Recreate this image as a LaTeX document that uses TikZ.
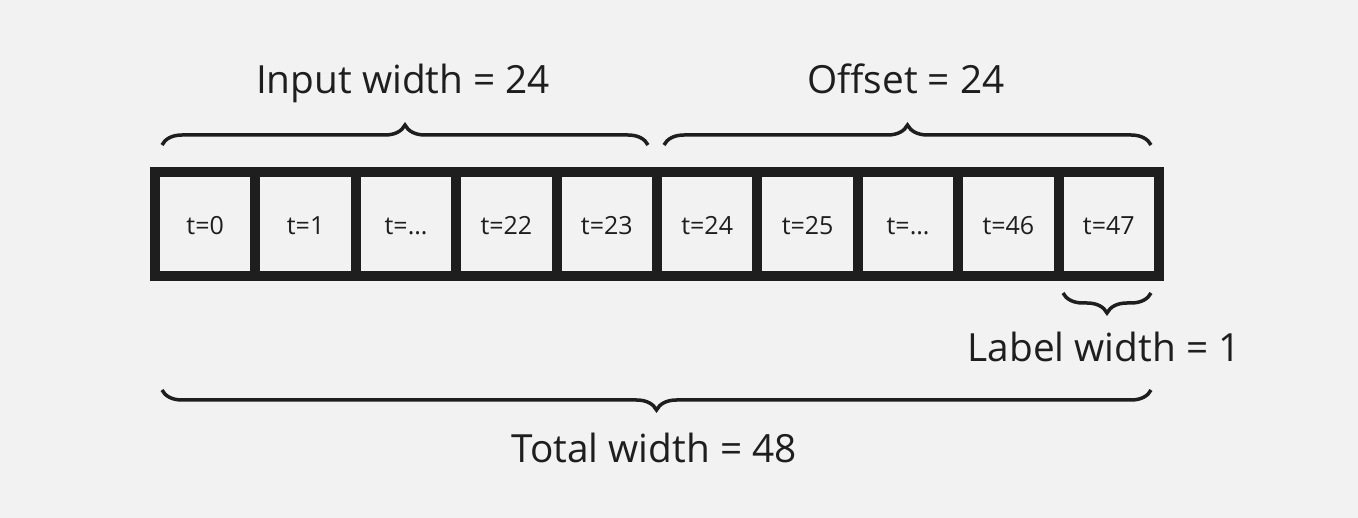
\documentclass[tikz,border=0pt]{standalone}
\usepackage{fontspec}
\setmainfont{Open Sans}
\usetikzlibrary{decorations.pathreplacing}
\definecolor{bg}{HTML}{F2F2F2}
\definecolor{ink}{HTML}{1E1E1E}
\begin{document}
\begin{tikzpicture}[x=1pt,y=-1pt,
  cell/.style={draw=ink, line width=10pt, minimum width=100.4pt, minimum height=104pt, inner sep=0pt, text=ink},
  celltext/.style={text=ink, anchor=base, inner sep=0pt, font=\fontsize{25}{30}\selectfont},
  bigbrace/.style={draw=ink, line width=3.5pt, decorate, decoration={brace, amplitude=20pt, aspect=0.5}},
  lbl/.style={text=ink, anchor=base, inner sep=0pt, font=\fontsize{38.8}{46}\selectfont}]
\useasboundingbox[fill=bg] (0,0) rectangle (1358,518);
% cells
\foreach \i/\t in {0/0,1/1,2/{\dots},3/22,4/23,5/24,6/25,7/{\dots},8/46,9/47}{
  \node[cell] (c\i) at ({205.2+100.4*\i},224) {};
  \node[celltext] (t\i) at ({205.2+100.4*\i},234.5) {t=\t};
}
% brace anchors
\coordinate (b1s) at (162,145); \coordinate (b1e) at (648,145);
\coordinate (b2s) at (664,145); \coordinate (b2e) at (1151,145);
\coordinate (b3s) at (1063,293); \coordinate (b3e) at (1151,293);
\coordinate (b4s) at (162,390); \coordinate (b4e) at (1151,390);
\draw[bigbrace] (b1s) -- (b1e);
\draw[bigbrace] (b2s) -- (b2e);
\draw[bigbrace] (b3e) -- (b3s);
\draw[bigbrace] (b4e) -- (b4s);
% labels
\node[lbl] (inw) at (403,93.5) {Input width = 24};
\node[lbl] (off) at (906,93.5) {Offset = 24};
\node[lbl] (lw) at (1104,361.5) {Label width = 1};
\node[lbl] (tw) at (654,462.5) {Total width = 48};
\end{tikzpicture}
\end{document}
